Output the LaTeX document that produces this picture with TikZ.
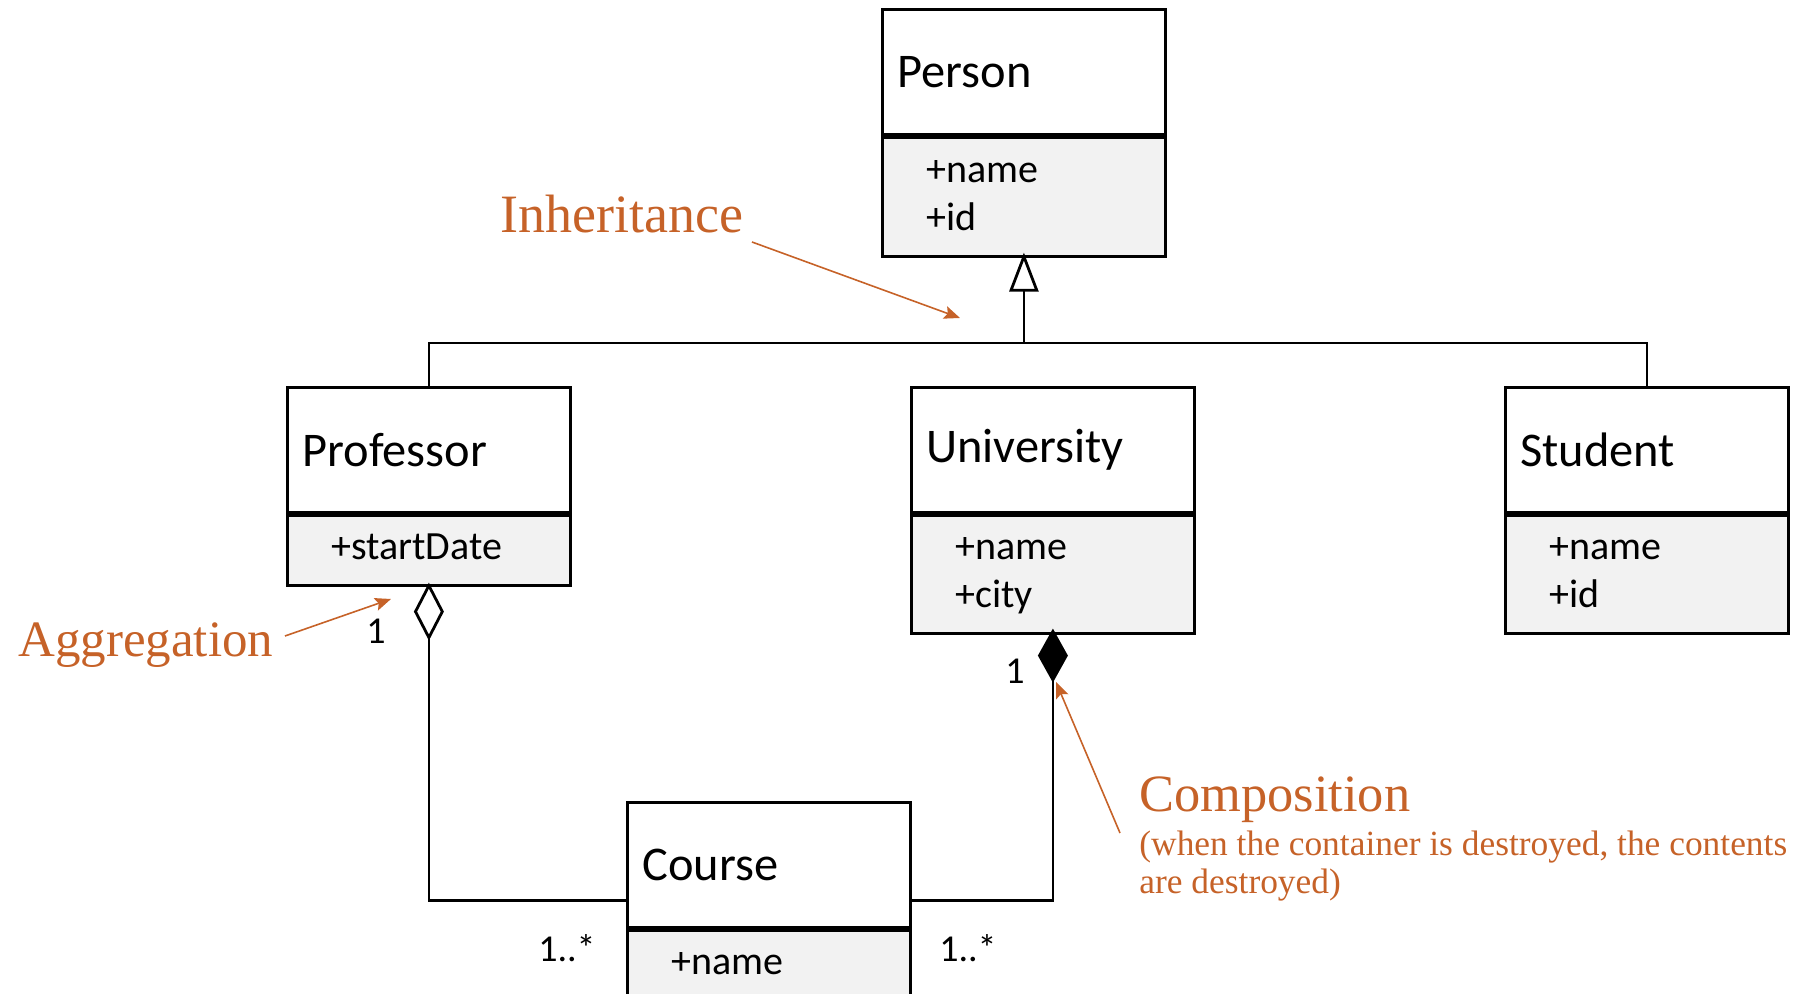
\documentclass[tikz,border=0pt]{standalone}
\usepackage{fontspec}
\newfontfamily\carlito{Carlito}
\newfontfamily\noteserif{Liberation Serif}
\usetikzlibrary{arrows.meta}
\definecolor{notecol}{RGB}{198,98,40}
\definecolor{attrgray}{RGB}{242,242,242}
\begin{document}
\begin{tikzpicture}[x=0.5pt,y=-0.5pt,
  hdr/.style={draw, line width=1.4pt, anchor=north west, minimum width=141.5pt,
    minimum height=62.5pt, inner xsep=7.5pt, inner ysep=0pt, text width=126.5pt,
    align=left, font=\carlito\fontsize{24.2}{28}\selectfont},
  attrbox/.style={draw, line width=1.4pt, fill=attrgray, anchor=north west,
    minimum width=141.5pt, inner xsep=22pt, inner ysep=0pt, text width=97.5pt,
    align=left, font=\carlito\fontsize{20}{24}\selectfont},
  conn/.style={line width=1.4pt, line join=miter},
  mult/.style={inner sep=0pt, font=\carlito\fontsize{19}{22}\selectfont},
  notetext/.style={inner sep=0pt, anchor=base west, text=notecol, font=\noteserif},
  notearrow/.style={draw=notecol, line width=0.8pt,
    -{Stealth[length=8pt, width=6.5pt, inset=1.5pt, fill=notecol]}}
]
\useasboundingbox (0,0) rectangle (1801,994);

% classes
\node[hdr] (person) at (881,8) {Person};
\node[attrbox, minimum height=59.5pt] (pattr) at (person.south west) {\strut+name\\\strut+id};

\node[hdr] (prof) at (286,386) {Professor};
\node[attrbox, minimum height=35pt] (profattr) at (prof.south west) {\strut+startDate};

\node[hdr] (univ) at (910,386) {University};
\node[attrbox, minimum height=59pt] (uattr) at (univ.south west) {\strut+name\\\strut+city};

\node[hdr] (stud) at (1504,386) {Student};
\node[attrbox, minimum height=59pt] (sattr) at (stud.south west) {\strut+name\\\strut+id};

\node[hdr] (course) at (626,801) {Course};
\node[attrbox, minimum height=35pt] (cattr) at (course.south west) {\strut+name};

% inheritance
\coordinate (bar) at (pattr.south |- 0,343);
\draw[conn, shorten >=-2.5pt, -{Triangle[open, length=19.5pt, width=14.5pt]}] (bar) -- (pattr.south);
\draw[conn] (prof.north) |- (bar) -| (stud.north);

% aggregation
\draw[conn, shorten <=-2pt, {Diamond[open, length=29pt, width=15pt]}-] (profattr.south) |- ([yshift=14pt]course.south west);
% composition
\draw[conn, shorten <=-3pt, {Diamond[length=27pt, width=15pt]}-] (uattr.south) |- ([yshift=14pt]course.south east);

% multiplicities
\node[mult] (m1) at (376,631) {1};
\node[mult] (m2) at (1015,671) {1};
\node[mult] (m3) at (567,948) {1..*};
\node[mult] (m4) at (968,948) {1..*};

% notes
\node[notetext, font=\noteserif\fontsize{27}{32}\selectfont] (inh) at (500,233) {Inheritance};
\node[notetext, font=\noteserif\fontsize{25.5}{30}\selectfont] (agg) at (18,657) {Aggregation};
\node[notetext, font=\noteserif\fontsize{26.2}{31}\selectfont] (comp) at (1139,812) {Composition};
\node[notetext, font=\noteserif\fontsize{17.7}{20}\selectfont] (compa) at (1139,855) {(when the container is destroyed, the contents};
\node[notetext, font=\noteserif\fontsize{17.7}{20}\selectfont] (compb) at (1139,893) {are destroyed)};

\coordinate (inhS) at (752,242);
\coordinate (inhT) at (960,318);
\coordinate (aggS) at (285,636);
\coordinate (aggT) at (391,599);
\coordinate (compS) at (1120,833);
\coordinate (compT) at (1056,682);
\draw[notearrow] (inhS) -- (inhT);
\draw[notearrow] (aggS) -- (aggT);
\draw[notearrow] (compS) -- (compT);
\end{tikzpicture}
\end{document}
